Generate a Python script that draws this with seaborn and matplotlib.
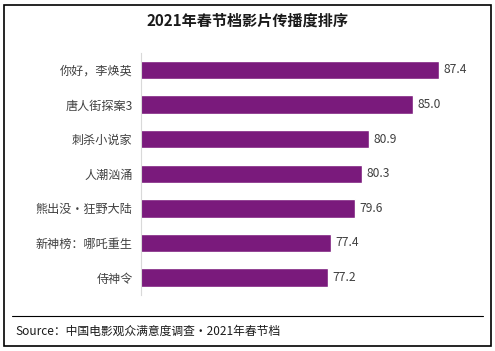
import matplotlib
matplotlib.use('Agg')
import matplotlib.pyplot as plt
import seaborn as sns
import pandas as pd
from matplotlib.patches import Rectangle
from matplotlib.lines import Line2D

films = ['你好，李焕英', '唐人街探案3', '刺杀小说家', '人潮汹涌',
         '熊出没·狂野大陆', '新神榜：哪吒重生', '侍神令']
scores = [87.4, 85.0, 80.9, 80.3, 79.6, 77.4, 77.2]

title = '2021年春节档影片传播度排序'
source = 'Source：中国电影观众满意度调查·2021年春节档'

sns.set_theme(style='white')
plt.rcParams['font.family'] = ['Noto Sans CJK SC', 'DejaVu Sans']

df = pd.DataFrame({'film': films, 'score': scores})

fig = plt.figure(figsize=(4.95, 3.51), dpi=100)
ax = fig.add_axes([0.285, 0.160, 0.66, 0.690])

sns.barplot(data=df, x='score', y='film', color='#7A1A7C', saturation=1,
            width=0.53, ax=ax)

ax.set_xlim(60, 90)
ax.set_xlabel('')
ax.set_ylabel('')
ax.set_xticks([])
for s in ['top', 'right', 'bottom']:
    ax.spines[s].set_visible(False)
ax.spines['left'].set_color('#d9d9d9')
ax.spines['left'].set_linewidth(0.8)
ax.tick_params(axis='y', length=0, pad=6, labelsize=8.7, labelcolor='#404040')

for i, v in enumerate(scores):
    ax.text(v + 0.4, i, f'{v:.1f}', va='center', ha='left',
            fontsize=8.7, color='#404040')

fig.text(0.5, 0.942, title, ha='center', va='center', fontsize=10.9,
         fontweight='bold', color='#1a1a1a')

# separator and source
fig.add_artist(Line2D([12 / 495, 483 / 495], [1 - 316 / 351, 1 - 316 / 351],
                      color='black', lw=0.8))
fig.text(15 / 495, 1 - 331 / 351, source, ha='left', va='center',
         fontsize=8.5, color='#1a1a1a')

# outer frame
fig.add_artist(Rectangle((4 / 495, 5 / 351), 487 / 495, 341 / 351,
                         fill=False, edgecolor='black', lw=1.2,
                         transform=fig.transFigure))

fig.savefig('out.png', dpi=100)
